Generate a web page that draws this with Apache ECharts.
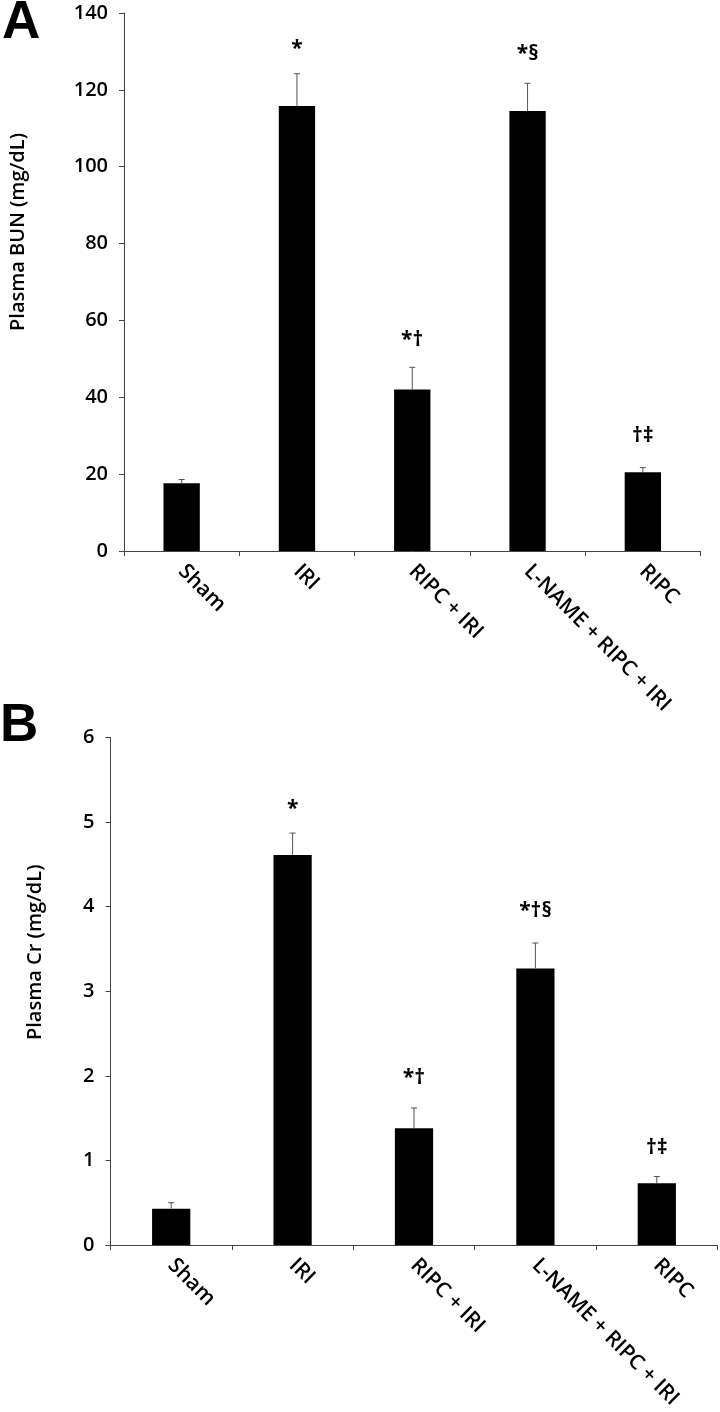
<!DOCTYPE html>
<html>
<head>
<meta charset="utf-8">
<script src="https://cdn.jsdelivr.net/npm/echarts@6/dist/echarts.min.js"></script>
<style>
  html, body { margin: 0; padding: 0; background: #fff; }
  #chart { width: 720px; height: 1412px; }
</style>
</head>
<body>
<div id="chart"></div>
<script>
// groups on the x axis (same for both panels)
var groups = ['Sham', 'IRI', 'RIPC + IRI', 'L-NAME + RIPC + IRI', 'RIPC'];

// panel A: plasma BUN (mg/dL)
var bunMean = [17.6, 115.8, 42.0, 114.5, 20.5];
var bunUpper = [18.6, 124.2, 47.8, 121.7, 21.7];
var bunSig = ['', '*', '*†', '*§', '†‡'];
var bunSigY = [0, 130.6, 55.0, 129.4, 30.0];

// panel B: plasma Cr (mg/dL)
var crMean = [0.43, 4.61, 1.38, 3.27, 0.73];
var crUpper = [0.50, 4.87, 1.62, 3.57, 0.81];
var crSig = ['', '*', '*†', '*†§', '†‡'];
var crSigY = [0, 5.15, 1.98, 3.95, 1.15];

var font = '"Open Sans", "Noto Sans", sans-serif';
var weight = 600;
var axisColor = '#444';

var chart = echarts.init(document.getElementById('chart'));

// upper error bar with a small cap
function errorBar(params, api) {
  var base = api.coord([api.value(0), api.value(1)]);
  var top = api.coord([api.value(0), api.value(2)]);
  var hw = 3;
  return {
    type: 'group',
    children: [
      { type: 'line', shape: { x1: base[0], y1: base[1], x2: top[0], y2: top[1] },
        style: { stroke: '#555', lineWidth: 1 } },
      { type: 'line', shape: { x1: top[0] - hw, y1: top[1], x2: top[0] + hw, y2: top[1] },
        style: { stroke: '#555', lineWidth: 1 } }
    ]
  };
}

// significance marks above the bars
var sigLabels = {};
function sigText(params, api) {
  var p = api.coord([api.value(0), api.value(1)]);
  return {
    type: 'text',
    x: p[0], y: p[1],
    style: {
      text: sigLabels[params.seriesIndex][params.dataIndex],
      fill: '#000', fontSize: 21, fontWeight: 'bold', fontFamily: font,
      align: 'center', verticalAlign: 'middle'
    }
  };
}

function xAxisFor(idx) {
  return {
    type: 'category',
    gridIndex: idx,
    data: groups,
    axisLine: { lineStyle: { color: axisColor, width: 1 } },
    axisTick: { show: true, length: 5, lineStyle: { color: axisColor } },
    axisLabel: {
      rotate: -45, margin: 17, interval: 0,
      color: '#000', fontSize: 21, fontWeight: weight, fontFamily: font
    }
  };
}

function yAxisFor(idx, max, step, name, gap, shift) {
  return {
    type: 'value',
    gridIndex: idx,
    min: 0, max: max, interval: step,
    name: name,
    nameLocation: 'middle',
    nameGap: gap,
    nameTextStyle: {
      color: '#000', fontSize: 20, fontWeight: weight, fontFamily: font,
      padding: [0, 0, 0, shift]
    },
    splitLine: { show: false },
    axisLine: { show: true, lineStyle: { color: axisColor, width: 1 } },
    axisTick: { show: true, length: 5, lineStyle: { color: axisColor } },
    axisLabel: { margin: 16, color: '#000', fontSize: 20, fontWeight: weight, fontFamily: font }
  };
}

sigLabels[2] = bunSig;
sigLabels[5] = crSig;

var option = {
  backgroundColor: '#fff',
  animation: false,
  grid: [
    { left: 114, top: 13, width: 586.5, height: 538 },
    { left: 110.5, top: 737.5, width: 607, height: 507.5 }
  ],
  xAxis: [xAxisFor(0), xAxisFor(1)],
  yAxis: [
    yAxisFor(0, 140, 20, 'Plasma BUN (mg/dL)', 96, 100),
    yAxisFor(1, 6, 1, 'Plasma Cr (mg/dL)', 65, 78)
  ],
  graphic: [
    { type: 'text', left: 2, top: -3,
      style: { text: 'A', fontSize: 53, fontWeight: 'bold', fontFamily: '"Liberation Sans", Arial, sans-serif', fill: '#000' } },
    { type: 'text', left: 0, top: 700,
      style: { text: 'B', fontSize: 53, fontWeight: 'bold', fontFamily: '"Liberation Sans", Arial, sans-serif', fill: '#000' } }
  ],
  series: [
    { type: 'bar', xAxisIndex: 0, yAxisIndex: 0, data: bunMean, barWidth: '31.5%',
      itemStyle: { color: '#000' }, silent: true },
    { type: 'custom', xAxisIndex: 0, yAxisIndex: 0, renderItem: errorBar, z: 3,
      data: groups.map(function (g, i) { return [i, bunMean[i], bunUpper[i]]; }) },
    { type: 'custom', xAxisIndex: 0, yAxisIndex: 0, renderItem: sigText, z: 4, silent: true,
      data: groups.map(function (g, i) { return [i, bunSigY[i]]; }) },
    { type: 'bar', xAxisIndex: 1, yAxisIndex: 1, data: crMean, barWidth: '31.5%',
      itemStyle: { color: '#000' }, silent: true },
    { type: 'custom', xAxisIndex: 1, yAxisIndex: 1, renderItem: errorBar, z: 3,
      data: groups.map(function (g, i) { return [i, crMean[i], crUpper[i]]; }) },
    { type: 'custom', xAxisIndex: 1, yAxisIndex: 1, renderItem: sigText, z: 4, silent: true,
      data: groups.map(function (g, i) { return [i, crSigY[i]]; }) }
  ]
};

chart.setOption(option);
</script>
</body>
</html>
